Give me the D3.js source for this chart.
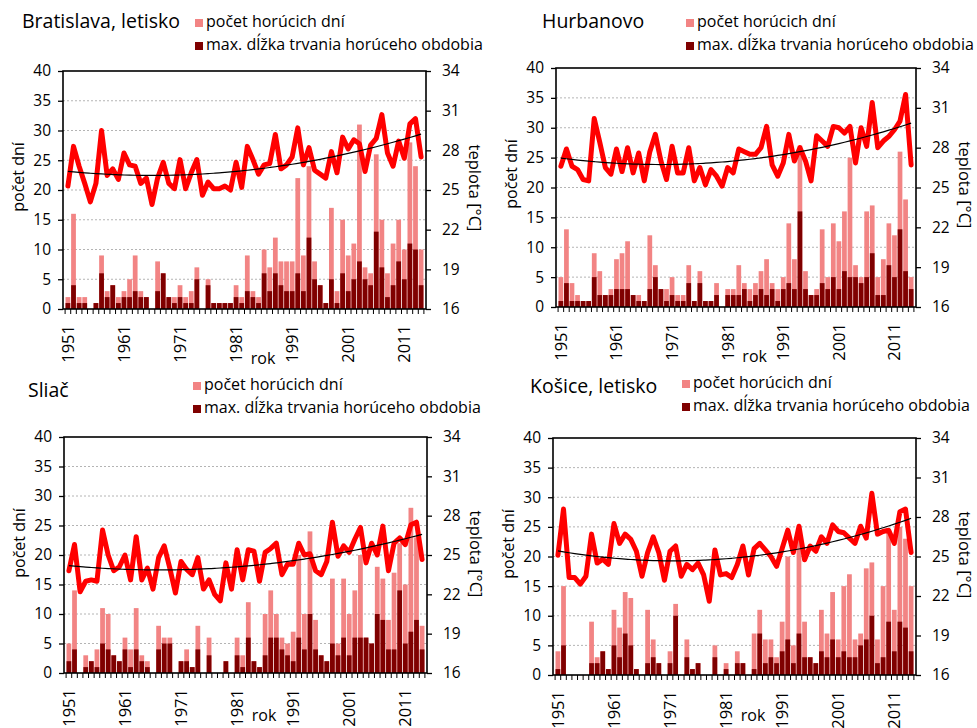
<!DOCTYPE html>
<html>
<head>
<meta charset="utf-8">
<script src="https://cdn.jsdelivr.net/npm/d3@7"></script>
<style>
body { margin: 0; background: #fff; }
text { font-family: 'Open Sans', sans-serif; fill: #000; }
</style>
</head>
<body>
<svg id="chart" width="977" height="728"></svg>
<script>

// categories
let years = d3.range(1951, 2015)
let yearTicks = [1951, 1961, 1971, 1981, 1991, 2001, 2011]
let dayTicks = [0, 5, 10, 15, 20, 25, 30, 35, 40]
let tempTicks = [16, 19, 22, 25, 28, 31, 34]

let hotLabel = 'počet horúcich dní'
let lenLabel = 'max. dĺžka trvania horúceho obdobia'

// Bratislava, letisko
let baHot = [2,16,2,2,0,1,9,3,4,2, 3,5,9,3,2,0,8,6,2,2, 4,2,3,7,0,5,1,1,1,1,
	4,2,9,3,2,10,7,12,8,8, 8,22,9,24,8,4,1,17,3,15, 9,11,31,7,6,26,15,6,11,15, 10,28,24,10]
let baLen = [1,4,1,1,0,1,6,2,4,1, 2,2,3,2,2,0,3,6,2,1, 2,1,1,5,0,4,1,1,1,1,
	2,1,3,2,1,6,3,6,4,3, 3,6,3,12,5,4,1,5,1,6, 3,5,8,5,4,13,7,2,4,8, 5,11,10,4]
let baTemp = [25.3,28.3,26.8,25.5,24.1,25.5,29.5,26.1,26.6,25.8,
	27.8,26.9,26.8,25.5,25.9,23.9,25.9,27.1,25.5,25.1,
	27.3,25.1,26.3,27.3,24.6,25.6,25.1,25.1,25.3,25.0,
	27.1,25.2,28.3,27.3,26.2,26.9,27.0,29.2,26.6,26.9,
	27.5,29.7,26.9,28.2,26.5,26.2,25.9,27.9,26.3,29.0,
	28.1,28.8,28.5,26.4,28.4,28.9,30.7,27.8,26.8,28.7,
	27.4,30.0,30.4,27.5]

// Hurbanovo
let huHot = [5,13,4,2,1,1,9,6,2,3, 8,9,11,2,2,1,12,7,3,3, 5,2,2,7,1,6,1,1,4,0,
	3,3,7,4,3,4,6,8,4,3, 5,14,8,27,6,2,3,13,5,14, 11,16,25,7,5,16,17,5,8,14, 12,26,18,5]
let huLen = [1,4,1,1,1,1,5,2,2,2, 3,3,3,2,1,1,3,5,3,1, 2,1,1,4,1,4,1,1,2,0,
	2,2,2,3,1,2,3,2,3,1, 3,4,3,16,3,2,2,4,3,5, 3,6,5,5,4,5,9,2,2,7, 5,13,6,3]
let huTemp = [26.6,27.9,26.6,26.35,25.6,25.5,30.2,28.4,26.5,26.0,
	27.9,26.2,28.0,26.1,27.6,25.5,27.7,29.0,27.0,25.6,
	28.1,26.1,26.1,28.0,25.5,26.5,25.2,26.35,25.85,25.1,
	26.5,26.1,27.9,27.7,27.5,27.5,28.0,29.6,26.7,25.85,
	26.85,29.0,27.0,28.0,27.0,25.5,28.9,28.5,28.1,29.6,
	29.5,29.1,29.6,26.85,29.5,28.1,31.4,28.0,28.5,28.85,
	29.35,30.0,32.0,26.7]

// Sliač
let slHot = [5,14,0,3,2,4,11,10,3,2, 6,4,11,3,2,0,8,6,6,0, 2,4,1,8,0,6,0,0,2,0,
	6,3,12,2,1,10,14,10,6,5, 7,20,10,24,9,3,2,16,5,16, 10,14,20,6,5,18,16,9,17,22, 15,28,23,8]
let slLen = [2,4,0,1,2,1,5,4,3,2, 4,1,4,2,1,0,4,5,5,0, 2,2,1,4,0,3,0,0,2,0,
	3,1,6,2,1,3,6,6,4,3, 2,6,4,10,4,3,2,5,3,6, 3,6,6,6,5,10,9,4,4,14, 5,7,9,4]
let slTemp = [23.8,25.8,22.2,23.0,23.1,23.0,26.9,25.0,23.8,24.1,
	25.0,23.1,26.4,23.1,24.0,22.4,24.8,25.7,24.0,22.1,
	24.5,23.9,23.5,24.8,22.4,23.1,22.0,21.5,24.4,22.4,
	25.4,23.1,25.4,25.3,23.0,25.2,25.5,25.9,23.5,24.3,
	24.3,25.9,25.0,25.1,23.8,23.5,24.5,27.5,24.9,25.7,
	25.2,26.2,27.1,24.4,25.9,25.0,27.2,23.8,25.9,26.3,
	25.8,27.3,27.5,24.65]

// Košice, letisko
let koHot = [4,15,0,0,0,0,9,3,4,1, 11,8,14,13,1,0,11,6,2,0, 4,12,0,6,1,2,0,0,5,0,
	2,0,4,2,0,7,11,6,6,3, 9,20,5,24,9,3,2,11,7,14, 6,15,17,6,7,18,19,6,15,24, 11,25,23,15]
let koLen = [1,5,0,0,0,0,2,2,4,1, 5,3,7,5,1,0,2,3,2,0, 2,10,0,3,1,2,0,0,3,0,
	1,0,2,2,0,1,7,2,3,2, 4,6,2,7,3,3,2,4,3,6, 3,4,3,3,5,6,10,2,3,9, 4,9,8,4]
let koTemp = [25.1,28.6,23.4,23.4,22.9,23.5,26.7,24.5,24.8,24.4,
	27.5,26.0,26.7,26.3,25.4,23.5,25.3,26.5,25.3,23.2,
	25.4,25.8,23.5,24.4,24.0,24.5,23.6,21.6,25.5,23.6,
	23.7,23.4,24.4,25.8,23.6,25.6,26.0,25.5,25.0,24.25,
	25.6,27.0,25.3,27.3,24.75,25.8,25.4,26.5,26.0,27.4,
	26.9,26.8,26.4,26.0,27.3,26.4,29.8,26.7,26.9,27.0,
	26.0,28.4,28.6,25.3]

let pinkColor = '#f28484'
let darkColor = '#7f0000'

let panels = [
	{title: 'Bratislava, letisko', hot: baHot, len: baLen, temp: baTemp,
		left: 63, right: 426, top: 71, bottom: 309, titleX: 22, titleY: 28, legX: 195, legY: 27, rokY: 364},
	{title: 'Hurbanovo', hot: huHot, len: huLen, temp: huTemp,
		left: 556, right: 916, top: 68, bottom: 307, titleX: 542, titleY: 28, legX: 686, legY: 27, rokY: 362},
	{title: 'Sliač', hot: slHot, len: slLen, temp: slTemp,
		left: 64, right: 427, top: 437, bottom: 673, titleX: 28, titleY: 397, legX: 193, legY: 390, rokY: 721},
	{title: 'Košice, letisko', hot: koHot, len: koLen, temp: koTemp,
		left: 553, right: 916, top: 438, bottom: 675, titleX: 530, titleY: 393, legX: 682, legY: 388, rokY: 721}
]

// polynomial (2nd order) trend, least squares like the spreadsheet trendline
function quadFit(ys){
	let s = [0,0,0,0,0], t = [0,0,0]
	ys.forEach((y, i) => {
		let x = i + 1
		for(let k = 0; k < 5; k++) s[k] += Math.pow(x, k)
		for(let k = 0; k < 3; k++) t[k] += y * Math.pow(x, k)
	})
	let m = [[s[0], s[1], s[2]], [s[1], s[2], s[3]], [s[2], s[3], s[4]]]
	let det = a => a[0][0]*(a[1][1]*a[2][2]-a[1][2]*a[2][1]) - a[0][1]*(a[1][0]*a[2][2]-a[1][2]*a[2][0]) + a[0][2]*(a[1][0]*a[2][1]-a[1][1]*a[2][0])
	let d = det(m)
	let coef = [0,1,2].map(c => det(m.map((row, r) => row.map((v, j) => j === c ? t[r] : v))) / d)
	return ys.map((y, i) => coef[0] + coef[1]*(i+1) + coef[2]*(i+1)*(i+1))
}

const svg = d3.select('#chart')

function drawPanel(p){
	const g = svg.append('g')

	let x = d3.scaleBand()
		.domain(years)
		.range([p.left, p.right])
		.paddingInner(0.15)
		.paddingOuter(0.45)

	let yDays = d3.scaleLinear().domain([0, 40]).range([p.bottom, p.top])
	let yTemp = d3.scaleLinear().domain([16, 34]).range([p.bottom, p.top])

	let cx = d => x(d) + x.bandwidth() / 2

	// gridlines
	g.selectAll('.grid')
		.data(dayTicks.filter(d => d > 0 && d < 40))
		.enter()
		.append('line')
		.attr('x1', p.left)
		.attr('x2', p.right)
		.attr('y1', d => yDays(d))
		.attr('y2', d => yDays(d))
		.attr('stroke', '#b4b4b4')
		.attr('stroke-width', 1)
		.attr('stroke-dasharray', '2,2')

	// bars
	g.selectAll('.hot')
		.data(years)
		.enter()
		.append('rect')
		.attr('x', d => x(d))
		.attr('width', x.bandwidth())
		.attr('y', (d, i) => yDays(p.hot[i]))
		.attr('height', (d, i) => p.bottom - yDays(p.hot[i]))
		.attr('fill', pinkColor)

	g.selectAll('.len')
		.data(years)
		.enter()
		.append('rect')
		.attr('x', d => x(d))
		.attr('width', x.bandwidth())
		.attr('y', (d, i) => yDays(p.len[i]))
		.attr('height', (d, i) => p.bottom - yDays(p.len[i]))
		.attr('fill', darkColor)

	// left axis
	let leftAxis = g.append('g')
		.attr('transform', `translate(${p.left},0)`)
		.call(d3.axisLeft(yDays).tickValues(dayTicks).tickSize(5).tickPadding(7))
	leftAxis.select('.domain').remove()
	leftAxis.selectAll('line').attr('stroke', '#000').attr('stroke-width', 1.3)
	leftAxis.selectAll('text').style('font-size', '15.5px').attr('fill', '#000')

	// right axis
	let rightAxis = g.append('g')
		.attr('transform', `translate(${p.right},0)`)
		.call(d3.axisRight(yTemp).tickValues(tempTicks).tickSize(5).tickPadding(11))
	rightAxis.select('.domain').remove()
	rightAxis.selectAll('line').attr('stroke', '#000').attr('stroke-width', 1.3)
	rightAxis.selectAll('text').style('font-size', '15.5px').attr('fill', '#000')

	// bottom tick marks between categories
	let step = x.step()
	let edges = years.map(d => cx(d) - step / 2).concat([cx(years[years.length - 1]) + step / 2])
	g.selectAll('.btick')
		.data(edges)
		.enter()
		.append('line')
		.attr('x1', d => d)
		.attr('x2', d => d)
		.attr('y1', p.bottom)
		.attr('y2', p.bottom + 5)
		.attr('stroke', '#000')
		.attr('stroke-width', 1)

	// year labels
	g.selectAll('.yl')
		.data(yearTicks)
		.enter()
		.append('text')
		.attr('transform', d => `translate(${cx(d)},${p.bottom + 16}) rotate(-90)`)
		.attr('text-anchor', 'end')
		.attr('dy', '0.36em')
		.style('font-size', '16.5px')
		.text(d => d)

	// frame
	g.append('rect')
		.attr('x', p.left)
		.attr('y', p.top)
		.attr('width', p.right - p.left)
		.attr('height', p.bottom - p.top)
		.attr('fill', 'none')
		.attr('stroke', '#000')
		.attr('stroke-width', 1.6)

	// temperature line
	let line = d3.line()
		.x((d, i) => cx(years[i]))
		.y(d => yTemp(d))

	g.append('path')
		.datum(p.temp)
		.attr('d', line)
		.attr('fill', 'none')
		.attr('stroke', '#ff0000')
		.attr('stroke-width', 5)
		.attr('stroke-linejoin', 'round')
		.attr('stroke-linecap', 'round')

	// trend
	g.append('path')
		.datum(quadFit(p.temp))
		.attr('d', line.curve(d3.curveMonotoneX))
		.attr('fill', 'none')
		.attr('stroke', '#000')
		.attr('stroke-width', 1.2)

	// titles
	g.append('text')
		.attr('x', p.titleX)
		.attr('y', p.titleY)
		.style('font-size', '19.5px')
		.text(p.title)

	g.append('text')
		.attr('transform', `translate(${p.left - 45},${p.top + 106}) rotate(-90)`)
		.attr('text-anchor', 'middle')
		.attr('dy', '0.35em')
		.style('font-size', '16px')
		.text('počet dní')

	g.append('text')
		.attr('transform', `translate(${p.right + 49},${p.top + 117}) rotate(90)`)
		.attr('text-anchor', 'middle')
		.attr('dy', '0.35em')
		.style('font-size', '16.5px')
		.text('teplota [°C]')

	g.append('text')
		.attr('x', cx(1981) + 27)
		.attr('y', p.rokY)
		.attr('text-anchor', 'middle')
		.style('font-size', '16px')
		.text('rok')

	// legend
	let legend = [{label: hotLabel, color: pinkColor}, {label: lenLabel, color: darkColor}]
	legend.forEach((l, i) => {
		let yy = p.legY + i * 23
		g.append('rect')
			.attr('x', p.legX)
			.attr('y', yy - 8)
			.attr('width', 8)
			.attr('height', 8)
			.attr('fill', l.color)
		g.append('text')
			.attr('x', p.legX + 11)
			.attr('y', yy)
			.style('font-size', '16px')
			.text(l.label)
	})
}

panels.forEach(drawPanel)

</script>
</body>
</html>
